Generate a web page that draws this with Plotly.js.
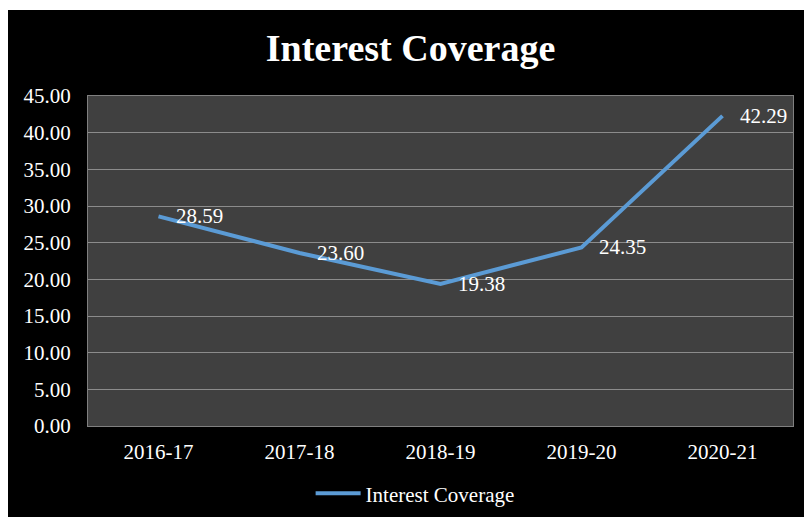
<!DOCTYPE html>
<html>
<head>
<meta charset="utf-8">
<script src="https://cdn.plot.ly/plotly-3.0.1.min.js"></script>
<style>
html,body{margin:0;padding:0;background:#fff;}
#chart{position:absolute;left:8px;top:10px;width:796px;height:507px;}
</style>
</head>
<body>
<div id="chart"></div>
<script>
var categories = ["2016-17","2017-18","2018-19","2019-20","2020-21"];
var coverage = [28.59, 23.60, 19.38, 24.35, 42.29];
var labels = ["28.59","23.60","19.38","24.35","42.29"];
var yTicks = [0,5,10,15,20,25,30,35,40,45];
var yTickText = ["0.00","5.00","10.00","15.00","20.00","25.00","30.00","35.00","40.00","45.00"];

var font = "Liberation Serif";
var trace = {
  x: categories, y: coverage, type: "scatter", mode: "lines",
  name: "Interest Coverage",
  line: {color: "#5B9BD5", width: 4}
};
var annotations = categories.map(function(c, i){
  return {x: i, y: coverage[i], xref: "x", yref: "y", text: labels[i],
    showarrow: false, xanchor: "left", yanchor: "middle", xshift: 15, yshift: 0,
    font: {family: font, size: 21, color: "#ffffff"}};
});
var layout = {
  width: 796, height: 507,
  paper_bgcolor: "#000000", plot_bgcolor: "#404040",
  font: {family: font, color: "#ffffff"},
  margin: {l: 80, r: 11, t: 86, b: 91, autoexpand: false},
  title: {text: "<b>Interest Coverage</b>", x: 0.5057, xanchor: "center", y: 0.925, yanchor: "middle",
    font: {family: font, size: 38, color: "#ffffff"}},
  xaxis: {type: "category", range: [-0.5, 4.5], showgrid: false, zeroline: false,
    showline: true, linecolor: "#808080", linewidth: 1, mirror: true, ticks: "",
    ticklabelstandoff: 7, automargin: false,
    tickfont: {family: font, size: 21, color: "#ffffff"}},
  yaxis: {range: [0, 45], tickvals: yTicks, ticktext: yTickText, showgrid: true,
    gridcolor: "#8c8c8c", gridwidth: 1, zeroline: false, showline: true, linecolor: "#808080",
    mirror: true, ticks: "", ticklabelstandoff: 12, automargin: false,
    tickfont: {family: font, size: 21, color: "#ffffff"}},
  showlegend: true,
  legend: {orientation: "h", x: 0.464, xanchor: "center", y: -0.205, yanchor: "middle",
    itemwidth: 45,
    font: {family: font, size: 21, color: "#ffffff"}, bgcolor: "rgba(0,0,0,0)"},
  annotations: annotations
};
Plotly.newPlot("chart", [trace], layout, {displayModeBar: false, staticPlot: true});
</script>
</body>
</html>
